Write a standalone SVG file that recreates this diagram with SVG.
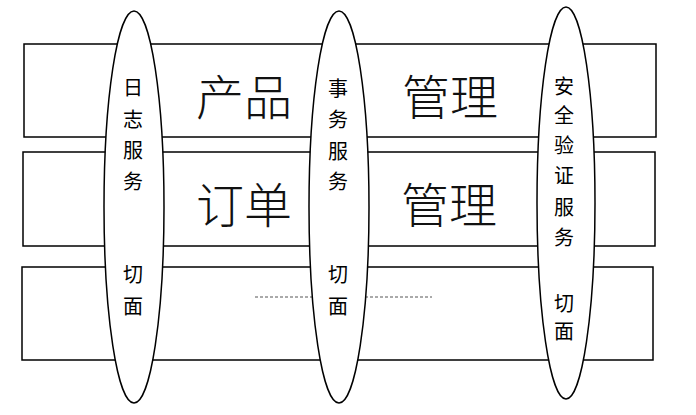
<svg xmlns="http://www.w3.org/2000/svg" width="696" height="415" viewBox="0 0 696 415">
<style>
.layer{fill:#fff;stroke:#000;stroke-width:1.5}
.aspect{fill:#fff;stroke:#000;stroke-width:1.5}
.big{font-family:"Noto Sans CJK SC","Noto Sans CJK JP",sans-serif;font-size:48px;font-weight:300;fill:#111;text-anchor:middle}
.small{font-family:"Noto Sans CJK SC","Noto Sans CJK JP",sans-serif;font-size:20px;fill:#000;text-anchor:middle}
.dots{stroke:#555;stroke-width:1;stroke-dasharray:3 2;fill:none}
</style>
<rect width="696" height="415" fill="#fff"/>
<g id="layer-product">
<rect class="layer" x="24" y="44" width="632" height="93"/>
<text class="big" x="244" y="115">产品</text>
<text class="big" x="450" y="115">管理</text>
</g>
<g id="layer-order">
<rect class="layer" x="23" y="152" width="632" height="94"/>
<text class="big" x="244" y="223">订单</text>
<text class="big" x="449" y="223">管理</text>
</g>
<g id="layer-more">
<rect class="layer" x="22" y="267" width="631" height="93"/>
</g>
<g id="connectors">
<line class="dots" x1="255" y1="297" x2="432" y2="297"/>
</g>
<g id="aspect-log">
<ellipse class="aspect" cx="134" cy="207" rx="30" ry="196"/>
<text class="small" x="133" y="95">日</text>
<text class="small" x="133" y="127">志</text>
<text class="small" x="133" y="158">服</text>
<text class="small" x="133" y="189">务</text>
<text class="small" x="133" y="282">切</text>
<text class="small" x="133" y="314">面</text>
</g>
<g id="aspect-transaction">
<ellipse class="aspect" cx="339" cy="207" rx="30" ry="196"/>
<text class="small" x="338" y="96">事</text>
<text class="small" x="338" y="127">务</text>
<text class="small" x="338" y="159">服</text>
<text class="small" x="338" y="189">务</text>
<text class="small" x="338" y="282">切</text>
<text class="small" x="338" y="314">面</text>
</g>
<g id="aspect-security">
<ellipse class="aspect" cx="566" cy="203" rx="29" ry="196"/>
<text class="small" x="564" y="94">安</text>
<text class="small" x="564" y="123">全</text>
<text class="small" x="564" y="153">验</text>
<text class="small" x="564" y="183">证</text>
<text class="small" x="564" y="215">服</text>
<text class="small" x="564" y="245">务</text>
<text class="small" x="564" y="311">切</text>
<text class="small" x="564" y="339">面</text>
</g>
</svg>
